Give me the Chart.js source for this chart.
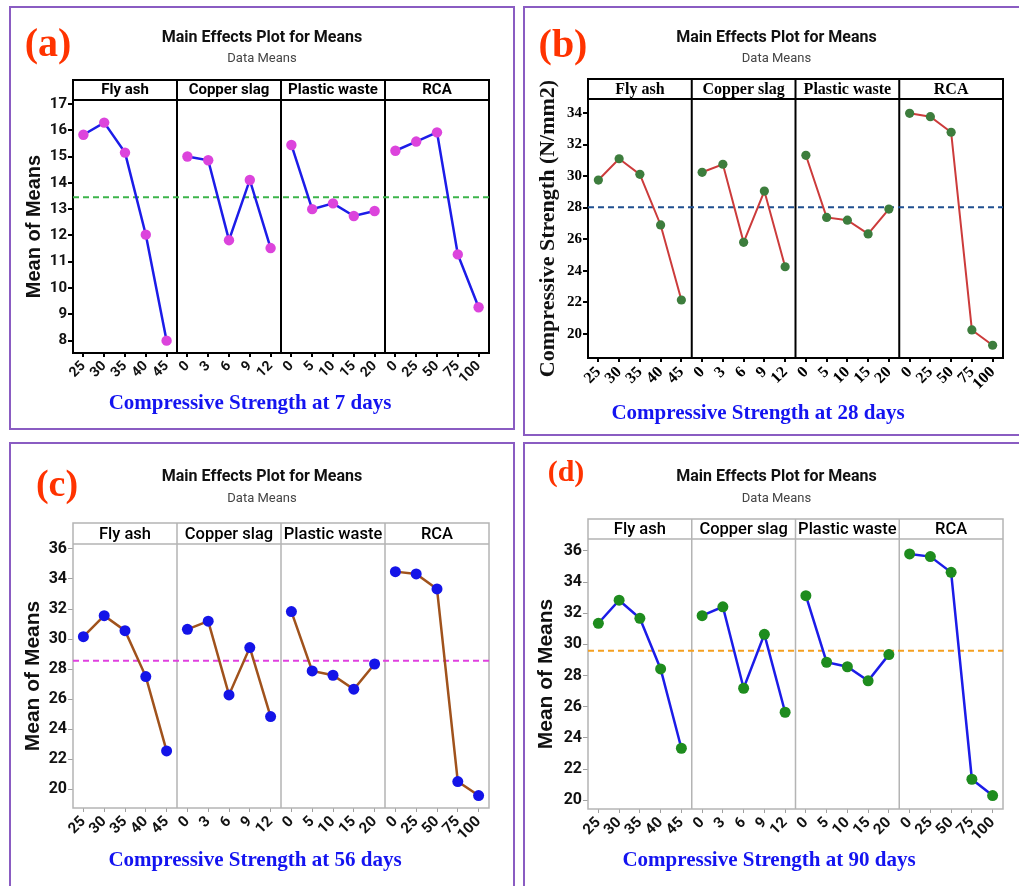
<!DOCTYPE html>
<html>
<head>
<meta charset="utf-8">
<script src="https://cdn.jsdelivr.net/npm/chart.js@4.4.1/dist/chart.umd.min.js"></script>
<style>
  html, body { margin:0; padding:0; background:#fff; }
  body { position:relative; width:1019px; height:886px; overflow:hidden; }
  .box { position:absolute; border:2px solid #8a5cc2; box-sizing:border-box; }
  canvas { position:absolute; }
  .tag { position:absolute; font-family:"Liberation Serif", serif; font-weight:bold; color:#ff3300; transform:translate(-50%,-50%); line-height:1; white-space:nowrap; }
  .cap { position:absolute; font-family:"Liberation Serif", serif; font-weight:bold; font-size:21px; color:#1414f0; transform:translate(-50%,-50%); white-space:nowrap; line-height:1; }
</style>
</head>
<body>
<div class="box" style="left:9px;top:6px;width:506px;height:424px;"></div>
<div class="box" style="left:523px;top:6px;width:505px;height:430px;"></div>
<div class="box" style="left:9px;top:442px;width:506px;height:450px;"></div>
<div class="box" style="left:523px;top:442px;width:505px;height:450px;"></div>

<canvas id="cA" width="504" height="423" style="left:10px;top:6px;"></canvas>
<canvas id="cB" width="495" height="428" style="left:524px;top:7px;"></canvas>
<canvas id="cC" width="504" height="443" style="left:10px;top:443px;"></canvas>
<canvas id="cD" width="495" height="443" style="left:524px;top:443px;"></canvas>

<div class="tag" style="left:48px;top:43px;font-size:40px;">(a)</div>
<div class="tag" style="left:563px;top:44px;font-size:40px;">(b)</div>
<div class="tag" style="left:57px;top:483px;font-size:38px;">(c)</div>
<div class="tag" style="left:566px;top:471px;font-size:30px;">(d)</div>

<div class="cap" style="left:250px;top:402px;">Compressive Strength at 7 days</div>
<div class="cap" style="left:758px;top:412px;">Compressive Strength at 28 days</div>
<div class="cap" style="left:255px;top:859px;">Compressive Strength at 56 days</div>
<div class="cap" style="left:769px;top:859px;">Compressive Strength at 90 days</div>

<script>
// ---------------- DATA ----------------
const factorNames = ['Fly ash', 'Copper slag', 'Plastic waste', 'RCA'];
const flyAshLevels = ['25', '30', '35', '40', '45'];
const copperSlagLevels = ['0', '3', '6', '9', '12'];
const plasticWasteLevels = ['0', '5', '10', '15', '20'];
const rcaLevels = ['0', '25', '50', '75', '100'];
const xTickLabels = [...flyAshLevels, ...copperSlagLevels, ...plasticWasteLevels, ...rcaLevels];

// 7 days
const flyAsh7 = [15.83, 16.29, 15.15, 12.03, 8.00];
const copperSlag7 = [15.00, 14.86, 11.82, 14.11, 11.52];
const plasticWaste7 = [15.44, 13.00, 13.22, 12.74, 12.93];
const rca7 = [15.22, 15.57, 15.92, 11.28, 9.27];
const grandMean7 = 13.45;
const yTicks7 = [8, 9, 10, 11, 12, 13, 14, 15, 16, 17];

// 28 days
const flyAsh28 = [29.75, 31.10, 30.11, 26.90, 22.14];
const copperSlag28 = [30.24, 30.75, 25.80, 29.05, 24.25];
const plasticWaste28 = [31.32, 27.38, 27.20, 26.33, 27.91];
const rca28 = [33.98, 33.77, 32.78, 20.24, 19.27];
const grandMean28 = 28.02;
const yTicks28 = [20, 22, 24, 26, 28, 30, 32, 34];

// 56 days
const flyAsh56 = [30.16, 31.56, 30.56, 27.50, 22.55];
const copperSlag56 = [30.65, 31.19, 26.28, 29.43, 24.84];
const plasticWaste56 = [31.83, 27.88, 27.59, 26.66, 28.34];
const rca56 = [34.49, 34.34, 33.34, 20.51, 19.58];
const grandMean56 = 28.55;
const yTicks56 = [20, 22, 24, 26, 28, 30, 32, 34, 36];

// 90 days
const flyAsh90 = [31.36, 32.84, 31.68, 28.43, 23.34];
const copperSlag90 = [31.85, 32.42, 27.19, 30.65, 25.65];
const plasticWaste90 = [33.13, 28.86, 28.57, 27.67, 29.35];
const rca90 = [35.81, 35.64, 34.63, 21.35, 20.30];
const grandMean90 = 29.60;
const yTicks90 = [20, 22, 24, 26, 28, 30, 32, 34, 36];

// ---------------- STYLE ----------------
const NARROW = 'Roboto, "Liberation Sans", sans-serif';
const SANS = '"Liberation Sans", Arial, sans-serif';
const SERIF = '"Liberation Serif", "Times New Roman", serif';

const facetPlugin = {
  id: 'facets',
  beforeDatasetsDraw(chart, args, o) {
    const { ctx, chartArea, scales } = chart;
    const { left, right, top, bottom } = chartArea;
    const x = scales.x;
    const hTop = top - o.headerH;
    const bounds = [-0.5, 4.5, 9.5, 14.5, 19.5];
    ctx.save();
    ctx.strokeStyle = o.frameColor;
    ctx.lineWidth = o.frameWidth;
    ctx.strokeRect(left, hTop, right - left, bottom - hTop);
    ctx.beginPath();
    ctx.moveTo(left, top); ctx.lineTo(right, top);
    for (let k = 1; k < 4; k++) {
      const px = x.getPixelForValue(bounds[k]);
      ctx.moveTo(px, hTop); ctx.lineTo(px, bottom);
    }
    ctx.stroke();
    ctx.fillStyle = o.textColor;
    ctx.font = o.font;
    ctx.textAlign = 'center';
    ctx.textBaseline = 'middle';
    for (let f = 0; f < 4; f++) {
      const cx = (x.getPixelForValue(bounds[f]) + x.getPixelForValue(bounds[f + 1])) / 2;
      ctx.fillText(factorNames[f], cx, hTop + o.headerH / 2 + o.textDy);
    }
    ctx.restore();
  }
};

function makePanel(c) {
  const datasets = c.series.map((vals, f) => ({
    label: factorNames[f],
    data: vals.map((v, i) => ({ x: f * 5 + i, y: v })),
    borderColor: c.lineColor,
    borderWidth: c.lineWidth,
    pointBackgroundColor: c.pointColor,
    pointBorderColor: c.pointColor,
    pointBorderWidth: 0,
    pointRadius: c.pointRadius,
    tension: 0,
    order: 1,
    clip: false
  }));
  datasets.push({
    label: 'Mean',
    data: [{ x: -0.5, y: c.mean }, { x: 19.5, y: c.mean }],
    borderColor: c.meanColor,
    borderWidth: 2,
    borderDash: [6, 4],
    pointRadius: 0,
    order: 5
  });
  new Chart(document.getElementById(c.id), {
    type: 'line',
    data: { datasets },
    options: {
      responsive: false,
      animation: false,
      events: [],
      layout: { padding: { left: c.L, right: c.R, top: 0, bottom: 0 } },
      plugins: {
        legend: { display: false },
        tooltip: { enabled: false },
        title: {
          display: true, text: 'Main Effects Plot for Means', color: '#111',
          font: { family: NARROW, size: 16, weight: 'bold', lineHeight: 1.2 },
          padding: { top: c.tpt, bottom: c.tpb }
        },
        subtitle: {
          display: true, text: 'Data Means', color: '#444',
          font: { family: NARROW, size: 13, weight: 'normal', lineHeight: 1.2 },
          padding: { top: 0, bottom: c.spb }
        },
        facets: c.facet
      },
      scales: {
        x: {
          type: 'linear', min: -0.5, max: 19.5,
          afterBuildTicks: s => { s.ticks = xTickLabels.map((_, i) => ({ value: i })); },
          afterFit: s => { s.height = c.xH; },
          ticks: {
            autoSkip: false, minRotation: 45, maxRotation: 45, padding: 1,
            color: c.tickText,
            font: c.xFont,
            callback: v => xTickLabels[v]
          },
          grid: { drawOnChartArea: false, drawTicks: true, tickLength: 4, color: c.tickColor, lineWidth: c.tickW },
          border: { display: false }
        },
        y: {
          type: 'linear', min: c.yMin, max: c.yMax,
          afterBuildTicks: s => { s.ticks = c.yTicks.map(v => ({ value: v })); },
          afterFit: s => { s.width = c.Y; },
          ticks: { padding: 1, color: c.tickText, font: c.yFont },
          grid: { drawOnChartArea: false, drawTicks: true, tickLength: 5, color: c.tickColor, lineWidth: c.tickW },
          border: { display: false },
          title: { display: true, text: c.yTitle, color: '#111', font: c.yTitleFont, padding: { top: c.ytp, bottom: 0 } }
        },
        yR: {
          type: 'linear', position: 'right', display: true,
          afterFit: s => { s.width = c.D; },
          grid: { display: false }, ticks: { display: false }, border: { display: false }
        }
      }
    },
    plugins: [facetPlugin]
  });
}

makePanel({
  id: 'cA', series: [flyAsh7, copperSlag7, plasticWaste7, rca7], mean: grandMean7,
  yTicks: yTicks7, yMin: 7.53, yMax: 17.15,
  lineColor: '#1c1ce8', lineWidth: 2.5, pointColor: '#dc44dc', pointRadius: 5.2, meanColor: '#3cb44b',
  L: 10, R: 10, Y: 53, D: 15, xH: 76, tpt: 22.4, tpb: 3.6, spb: 33.2,
  tickColor: '#000', tickW: 2, tickText: '#111',
  xFont: { family: NARROW, size: 14, weight: 'bold' },
  yFont: { family: NARROW, size: 15, weight: 'bold' },
  yTitle: 'Mean of Means', yTitleFont: { family: SANS, size: 20, weight: 'bold', lineHeight: 1.2 }, ytp: 2,
  facet: { headerH: 20, frameColor: '#000', frameWidth: 2, textColor: '#000', font: 'bold 15px ' + NARROW, textDy: 0.5 }
});

makePanel({
  id: 'cB', series: [flyAsh28, copperSlag28, plasticWaste28, rca28], mean: grandMean28,
  yTicks: yTicks28, yMin: 18.46, yMax: 34.89,
  lineColor: '#cc3b3b', lineWidth: 2, pointColor: '#3d7d3d', pointRadius: 4.6, meanColor: '#1f4f8f',
  L: 10, R: 0, Y: 54, D: 16, xH: 77, tpt: 21.4, tpb: 3.6, spb: 32.2,
  tickColor: '#000', tickW: 2, tickText: '#000',
  xFont: { family: SERIF, size: 16, weight: 'bold' },
  yFont: { family: SERIF, size: 15, weight: 'bold' },
  yTitle: 'Compressive Strength (N/mm2)', yTitleFont: { family: SERIF, size: 22, weight: 'bold', lineHeight: 1.2 }, ytp: 0.8,
  facet: { headerH: 20, frameColor: '#000', frameWidth: 2, textColor: '#000', font: 'bold 16px ' + SERIF, textDy: 1 }
});

makePanel({
  id: 'cC', series: [flyAsh56, copperSlag56, plasticWaste56, rca56], mean: grandMean56,
  yTicks: yTicks56, yMin: 18.75, yMax: 36.33,
  lineColor: '#a0521c', lineWidth: 2.5, pointColor: '#1414e8', pointRadius: 5.5, meanColor: '#e040e0',
  L: 10, R: 10, Y: 53, D: 15, xH: 78, tpt: 24.4, tpb: 4.3, spb: 37.5,
  tickColor: '#a0a0a0', tickW: 1, tickText: '#111',
  xFont: { family: NARROW, size: 15, weight: 'bold' },
  yFont: { family: NARROW, size: 16, weight: 'bold' },
  yTitle: 'Mean of Means', yTitleFont: { family: SANS, size: 21, weight: 'bold', lineHeight: 1.2 }, ytp: 0.9,
  facet: { headerH: 21, frameColor: '#b4b4b4', frameWidth: 1.5, textColor: '#000', font: '500 16.5px ' + NARROW, textDy: 1 }
});

makePanel({
  id: 'cD', series: [flyAsh90, copperSlag90, plasticWaste90, rca90], mean: grandMean90,
  yTicks: yTicks90, yMin: 19.44, yMax: 36.77,
  lineColor: '#1c1ce8', lineWidth: 2.5, pointColor: '#1e8c1e', pointRadius: 5.5, meanColor: '#f5a020',
  L: 10, R: 0, Y: 54, D: 16, xH: 77, tpt: 24.4, tpb: 4.3, spb: 32.5,
  tickColor: '#a0a0a0', tickW: 1, tickText: '#111',
  xFont: { family: NARROW, size: 15, weight: 'bold' },
  yFont: { family: NARROW, size: 16, weight: 'bold' },
  yTitle: 'Mean of Means', yTitleFont: { family: SANS, size: 21, weight: 'bold', lineHeight: 1.2 }, ytp: 0,
  facet: { headerH: 20, frameColor: '#b4b4b4', frameWidth: 1.5, textColor: '#000', font: '500 16.5px ' + NARROW, textDy: 1 }
});
</script>
</body>
</html>
